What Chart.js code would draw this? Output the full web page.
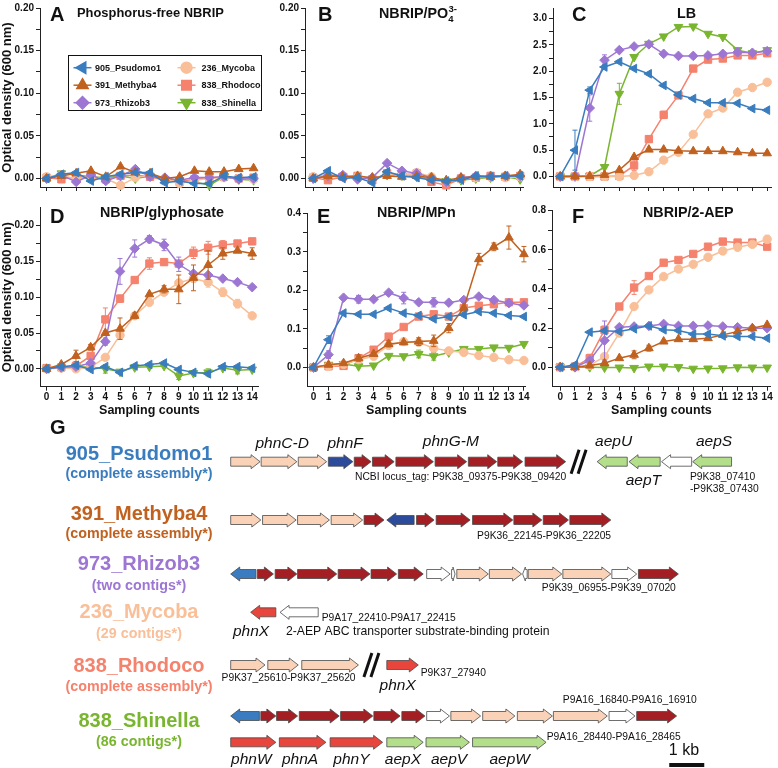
<!DOCTYPE html>
<html>
<head>
<meta charset="utf-8">
<script src="https://cdn.jsdelivr.net/npm/chart.js@4.4.1/dist/chart.umd.min.js"></script>
<style>
  body { margin: 0; background: #fff; }
  #fig { position: relative; width: 778px; height: 768px; overflow: hidden; font-family: "Liberation Sans", Arial, sans-serif; }
  #fig canvas { position: absolute; }
  .lbl { position: absolute; font-weight: bold; color: #111; white-space: nowrap; line-height: 1; }
  .let { font-size: 20px; }
  .ttl { font-size: 14.3px; }
  .sm { position: relative; font-size: 9.5px; }
</style>
</head>
<body>
<div id="fig">
  <canvas id="cA" width="265" height="200" style="left:0;top:0"></canvas>
  <canvas id="cB" width="265" height="200" style="left:265px;top:0"></canvas>
  <canvas id="cC" width="265" height="200" style="left:512.7px;top:0"></canvas>
  <canvas id="cD" width="265" height="225" style="left:0;top:195px"></canvas>
  <canvas id="cE" width="265" height="225" style="left:266.7px;top:195px"></canvas>
  <canvas id="cF" width="265" height="225" style="left:511.7px;top:195px"></canvas>
  <canvas id="cG" width="778" height="353" style="left:0;top:415px"></canvas>

  <div class="lbl let" style="left:50px;top:4px">A</div>
  <div class="lbl ttl" style="left:77px;top:7px;font-size:12.9px">Phosphorus-free NBRIP</div>
  <div class="lbl let" style="left:318px;top:4px">B</div>
  <div class="lbl ttl" style="left:379px;top:6.2px">NBRIP/PO<span class="sm" style="top:4px">4</span><span class="sm" style="top:-6px;left:-5px">3-</span></div>
  <div class="lbl let" style="left:572px;top:4px">C</div>
  <div class="lbl ttl" style="left:677px;top:6.2px">LB</div>
  <div class="lbl let" style="left:50px;top:206px">D</div>
  <div class="lbl ttl" style="left:100px;top:205px">NBRIP/glyphosate</div>
  <div class="lbl let" style="left:317px;top:206px">E</div>
  <div class="lbl ttl" style="left:377px;top:205px">NBRIP/MPn</div>
  <div class="lbl let" style="left:572px;top:206px">F</div>
  <div class="lbl ttl" style="left:643px;top:205px">NBRIP/2-AEP</div>
</div>
<script>
// ---- growth curves (OD600), one row per strain, in the order of `strains`
const counts = [0, 1, 2, 3, 4, 5, 6, 7, 8, 9, 10, 11, 12, 13, 14];
const strains = ['905_Psudomo1', '391_Methyba4', '973_Rhizob3', '236_Mycoba', '838_Rhodoco', '838_Shinella'];
const assemblies = ['(complete assembly*)', '(complete assembly*)', '(two contigs*)', '(29 contigs*)', '(complete assembly*)', '(86 contigs*)'];

const odNoP = [
  [0, 0.005, 0.007, -0.003, 0.002, 0.005, 0.007, 0.007, -0.005, -0.003, -0.006, -0.006, 0.003, 0.001, 0.002],
  [0, 0.003, 0.006, 0.009, 0.002, 0.014, 0.007, 0.006, 0, 0.002, 0.009, 0.008, 0.008, 0.011, 0.012],
  [0, 0.004, -0.004, 0.004, -0.003, 0.003, 0.011, 0.002, 0.001, -0.002, 0.001, 0.001, 0.002, -0.001, 0],
  [0.002, 0.004, -0.001, 0.002, 0, -0.008, 0.001, 0.004, 0, -0.006, -0.002, 0, 0.001, 0, -0.001],
  [0.001, -0.001, 0.002, 0.001, -0.001, 0.003, 0.004, 0.002, -0.002, -0.004, -0.001, 0.001, 0.002, 0, 0.001],
  [0, 0.006, 0.004, 0.002, 0.001, 0.003, 0, 0.003, -0.001, -0.002, -0.004, -0.008, 0.002, -0.001, -0.002]
];
const odPO4 = [
  [0, 0.009, 0, 0.001, -0.005, 0.008, 0.003, 0.001, -0.002, -0.003, -0.002, 0.003, 0.002, 0.003, 0.003],
  [0, 0.003, 0.002, 0.003, 0.001, 0.003, 0.002, 0.003, 0.001, -0.002, 0.001, 0.002, 0.002, 0.003, 0.005],
  [0, 0.003, 0.004, -0.001, 0.001, 0.018, 0.009, 0.006, 0.001, -0.004, 0.001, 0.003, 0.003, 0.003, 0.003],
  [0.002, 0.004, 0.003, 0.002, 0, 0.005, 0.003, 0.007, 0.002, -0.004, -0.001, 0.001, 0.002, 0.001, 0.002],
  [0.001, -0.002, 0.002, 0.003, -0.002, 0.006, 0.004, 0.006, -0.004, -0.008, 0, 0.001, 0.003, 0.002, 0.003],
  [0, 0.002, 0.003, 0.001, 0, 0.004, 0.003, 0.002, -0.001, -0.003, -0.002, 0, 0.001, 0.002, -0.001]
];
const odLB = [
  [0, 0.5, 1.64, 2.08, 2.18, 2.05, 1.95, 1.73, 1.55, 1.48, 1.40, 1.40, 1.39, 1.29, 1.26],
  [0, 0, 0.01, 0.03, 0.12, 0.37, 0.51, 0.51, 0.49, 0.48, 0.48, 0.48, 0.46, 0.44, 0.44],
  [0, 0.01, 1.30, 2.21, 2.40, 2.47, 2.51, 2.33, 2.29, 2.29, 2.30, 2.33, 2.36, 2.35, 2.38],
  [0, 0, 0, 0, 0, 0.02, 0.09, 0.31, 0.46, 0.80, 1.19, 1.30, 1.60, 1.69, 1.79],
  [0, 0, 0, 0, 0.01, 0.21, 0.71, 1.17, 1.54, 2.05, 2.22, 2.24, 2.30, 2.30, 2.34],
  [0, 0, 0.01, 0.18, 1.57, 2.27, 2.52, 2.66, 2.84, 2.85, 2.71, 2.65, 2.40, 2.34, 2.40]
];
const odGlyphosate = [
  [0, 0.003, 0.005, -0.001, 0.003, -0.005, 0.004, 0.006, 0.008, -0.001, -0.005, -0.007, 0.003, 0.003, 0.001],
  [0, 0.006, 0.018, 0.030, 0.050, 0.056, 0.074, 0.104, 0.111, 0.111, 0.127, 0.145, 0.161, 0.165, 0.161],
  [0, 0.002, 0.003, 0.008, 0.038, 0.136, 0.168, 0.181, 0.173, 0.146, 0.133, 0.131, 0.126, 0.121, 0.114],
  [0, 0.001, 0, 0.002, 0.016, 0.047, 0.074, 0.093, 0.107, 0.120, 0.126, 0.121, 0.107, 0.091, 0.074],
  [0.001, 0.002, 0.004, 0.018, 0.069, 0.098, 0.124, 0.147, 0.149, 0.147, 0.162, 0.169, 0.173, 0.175, 0.178],
  [0, 0.002, 0.003, 0.002, 0, -0.004, 0.002, 0.003, 0.004, -0.010, -0.006, -0.005, 0.001, -0.002, -0.001]
];
const odMPn = [
  [0, 0.072, 0.141, 0.138, 0.138, 0.154, 0.141, 0.135, 0.126, 0.132, 0.137, 0.145, 0.141, 0.135, 0.132],
  [0, 0.007, 0.011, 0.024, 0.035, 0.061, 0.065, 0.067, 0.069, 0.102, 0.155, 0.281, 0.313, 0.337, 0.294],
  [0, 0.033, 0.181, 0.177, 0.177, 0.194, 0.180, 0.169, 0.169, 0.168, 0.175, 0.184, 0.175, 0.167, 0.161],
  [0, 0.003, 0.008, 0.020, 0.029, 0.057, 0.067, 0.065, 0.050, 0.043, 0.039, 0.031, 0.026, 0.020, 0.018],
  [0, 0.003, 0.004, 0.024, 0.046, 0.080, 0.105, 0.132, 0.138, 0.132, 0.154, 0.160, 0.164, 0.169, 0.169],
  [0, 0.007, 0.009, 0.003, 0.005, 0.030, 0.029, 0.035, 0.029, 0.039, 0.048, 0.048, 0.052, 0.051, 0.061]
];
const odAEP = [
  [0, 0.012, 0.179, 0.186, 0.182, 0.196, 0.211, 0.191, 0.187, 0.169, 0.169, 0.160, 0.157, 0.157, 0.148],
  [0, 0, 0.008, 0.020, 0.046, 0.063, 0.097, 0.131, 0.143, 0.143, 0.148, 0.165, 0.182, 0.199, 0.216],
  [0, 0, 0.034, 0.136, 0.204, 0.208, 0.211, 0.221, 0.211, 0.211, 0.213, 0.208, 0.204, 0.199, 0.199],
  [0, 0, 0.010, 0.054, 0.174, 0.310, 0.395, 0.463, 0.502, 0.526, 0.562, 0.594, 0.613, 0.628, 0.654],
  [0, 0.003, 0.046, 0.190, 0.310, 0.407, 0.466, 0.534, 0.548, 0.579, 0.616, 0.642, 0.637, 0.637, 0.616],
  [0, 0, 0, -0.002, -0.002, -0.004, 0.003, 0.003, 0, -0.008, -0.007, -0.006, -0.001, -0.002, -0.002]
];

// standard deviations that are visible, as [count, sd] pairs per strain
const sdLB = [[[1, 0.38], [2, 0.06], [3, 0.04]], [], [[2, 0.25], [3, 0.1]], [], [[5, 0.1], [6, 0.06], [7, 0.07], [8, 0.04], [9, 0.05]], [[4, 0.2]]];
const sdGlyphosate = [
  [],
  [[2, 0.008], [3, 0.004], [5, 0.015], [6, 0.004], [8, 0.005], [9, 0.02], [10, 0.018], [11, 0.02], [12, 0.008], [14, 0.008]],
  [[4, 0.005], [5, 0.018], [6, 0.012], [7, 0.005], [8, 0.008], [9, 0.01]],
  [[7, 0.005], [8, 0.004], [10, 0.005], [11, 0.007], [12, 0.006], [13, 0.006]],
  [[4, 0.016], [5, 0.005], [6, 0.004], [7, 0.008], [8, 0.004], [10, 0.008], [11, 0.009], [12, 0.006]],
  [[4, 0.006], [9, 0.005], [11, 0.005], [13, 0.005]]
];
const sdMPn = [
  [[1, 0.01]],
  [[3, 0.008], [5, 0.008], [7, 0.01], [8, 0.015], [9, 0.012], [11, 0.015], [12, 0.01], [13, 0.03], [14, 0.02]],
  [[1, 0.01], [3, 0.01], [6, 0.015], [8, 0.012]],
  [], [],
  [[5, 0.005], [7, 0.01], [8, 0.01]]
];
const sdAEP = [[], [[5, 0.02], [6, 0.015]], [[3, 0.1]], [[14, 0.02]], [[2, 0.02], [3, 0.02], [5, 0.035]], []];

// y tick labels per panel
const ticksLowOD = [0, 0.05, 0.10, 0.15, 0.20];
const ticksLB = [0, 0.5, 1.0, 1.5, 2.0, 2.5, 3.0];
const ticksMPn = [0, 0.1, 0.2, 0.3, 0.4];
const ticksAEP = [0, 0.2, 0.4, 0.6, 0.8];

// ---- gene maps (G): [start kb, end kb, strand, type]
const genesPsudomo1 = [[0.02, 0.86, 1, 'P'], [0.89, 1.91, 1, 'P'], [1.95, 2.76, 1, 'P'], [2.81, 3.51, 1, 'N'], [3.55, 4.03, 1, 'R'], [4.07, 4.69, 1, 'R'], [4.74, 5.81, 1, 'R'], [5.86, 6.76, 1, 'R'], [6.81, 7.62, 1, 'R'], [7.65, 8.36, 1, 'R'], [8.43, 9.59, 1, 'R'],
  [10.49, 11.35, -1, 'G'], [11.40, 12.29, -1, 'G'], [12.33, 13.19, -1, 'W'], [13.22, 14.33, -1, 'G']];
const genesMethyba4 = [[0.02, 0.88, 1, 'P'], [0.93, 1.89, 1, 'P'], [1.93, 2.84, 1, 'P'], [2.89, 3.79, 1, 'P'], [3.83, 4.40, 1, 'R'], [4.48, 5.26, -1, 'N'], [5.33, 5.83, 1, 'R'], [5.89, 6.86, 1, 'R'], [6.93, 8.08, 1, 'R'], [8.11, 8.91, 1, 'R'], [8.95, 9.67, 1, 'R'], [9.71, 10.88, 1, 'R']];
const genesRhizob3 = [[0.02, 0.74, -1, 'B'], [0.78, 1.24, 1, 'R'], [1.29, 1.91, 1, 'R'], [1.93, 3.05, 1, 'R'], [3.09, 4.00, 1, 'R'], [4.03, 4.76, 1, 'R'], [4.81, 5.52, 1, 'R'], [5.62, 6.29, 1, 'W'], [6.33, 6.43, 1, 'W'], [6.48, 7.38, 1, 'P'], [7.41, 8.33, 1, 'P'], [8.36, 8.49, -1, 'W'], [8.52, 9.48, 1, 'P'], [9.51, 10.88, 1, 'P'], [10.91, 11.62, 1, 'W'], [11.67, 12.81, 1, 'R']];
const genesMycoba = [[0.59, 1.31, -1, 'X'], [1.43, 2.52, -1, 'W']];
const genesRhodoco = [[0.02, 1.00, 1, 'P'], [1.08, 1.95, 1, 'P'], [2.05, 3.67, 1, 'P'], [4.48, 5.38, 1, 'X']];
const genesShinellaA = [[0.02, 0.84, -1, 'B'], [0.88, 1.31, 1, 'R'], [1.33, 1.93, 1, 'R'], [1.98, 3.12, 1, 'R'], [3.16, 4.08, 1, 'R'], [4.11, 4.86, 1, 'R'], [4.91, 5.57, 1, 'R'], [5.62, 6.27, 1, 'W'], [6.31, 7.16, 1, 'P'], [7.22, 8.14, 1, 'P'], [8.21, 9.21, 1, 'P'], [9.24, 10.78, 1, 'P'], [10.83, 11.57, 1, 'W'], [11.62, 12.76, 1, 'R']];
const genesShinellaB = [[0.02, 1.31, 1, 'X'], [1.41, 2.74, 1, 'X'], [2.86, 4.36, 1, 'X'], [4.48, 5.52, 1, 'G'], [5.60, 6.84, 1, 'G'], [6.93, 9.03, 1, 'G']];
const gapMarks = [[0, 9.96], [4, 4.04]];   // [track, kb] of the "//" breaks
const scaleBarKb = [12.55, 13.55];

// ---- styling
const strainColors = ['#3a7dbf', '#c0611f', '#9d76d4', '#f9bf98', '#f4826d', '#79b52f'];
const markers = [
  { pointStyle: 'triangle', rotation: -90, r: 5 },
  { pointStyle: 'triangle', rotation: 0, r: 5 },
  { pointStyle: 'rectRot', rotation: 0, r: 4.8 },
  { pointStyle: 'circle', rotation: 0, r: 4.2 },
  { pointStyle: 'rect', rotation: 0, r: 5.2 },
  { pointStyle: 'triangle', rotation: 180, r: 5 }
];
const geneFill = { P: '#f9d2b8', R: '#a41f24', N: '#2d4b9b', B: '#3b7bbf', X: '#e8453d', G: '#b4df8a', W: '#ffffff' };
const FONT = '"Liberation Sans", Arial, sans-serif';

const sdArray = pairs => {
  const a = counts.map(() => 0);
  (pairs || []).forEach(([i, v]) => { a[i] = v; });
  return a;
};

const errorBars = {
  id: 'errorBars',
  beforeDatasetDraw(chart, args) {
    const ds = chart.data.datasets[args.index];
    if (!ds.sd) return;
    const { ctx } = chart;
    const y = chart.scales.y;
    ctx.save();
    ctx.strokeStyle = ds.borderColor;
    ctx.lineWidth = 1;
    args.meta.data.forEach((pt, i) => {
      const e = ds.sd[i];
      if (!e) return;
      const v = ds.data[i].y;
      const y1 = y.getPixelForValue(v + e), y2 = y.getPixelForValue(v - e);
      ctx.beginPath();
      ctx.moveTo(pt.x, y1); ctx.lineTo(pt.x, y2);
      ctx.moveTo(pt.x - 2.5, y1); ctx.lineTo(pt.x + 2.5, y1);
      ctx.moveTo(pt.x - 2.5, y2); ctx.lineTo(pt.x + 2.5, y2);
      ctx.stroke();
    });
    ctx.restore();
  }
};

// boxed legend inside panel A (two columns)
const boxLegend = {
  id: 'boxLegend',
  afterDraw(chart) {
    const { ctx } = chart;
    ctx.save();
    ctx.fillStyle = '#fff';
    ctx.fillRect(68.5, 55.5, 193, 55);
    ctx.strokeStyle = '#111';
    ctx.lineWidth = 1;
    ctx.strokeRect(68.5, 55.5, 193, 55);
    ctx.font = 'bold 9px ' + FONT;
    ctx.textBaseline = 'middle';
    chart.data.datasets.forEach((ds, i) => {
      const col = i < 3 ? 0 : 1;
      const y = 67.7 + (i % 3) * 17.5;
      const mx = col ? 186.5 : 82.5;
      ctx.strokeStyle = ds.borderColor;
      ctx.lineWidth = 1.5;
      ctx.beginPath(); ctx.moveTo(mx - 9, y); ctx.lineTo(mx + 9, y); ctx.stroke();
      ctx.fillStyle = ds.borderColor;
      Chart.helpers.drawPoint(ctx, { pointStyle: ds.pointStyle, rotation: ds.pointRotation, radius: ds.pointRadius * 1.3, borderWidth: 1 }, mx, y);
      ctx.fillStyle = '#111';
      ctx.fillText(ds.label, col ? 201.5 : 95, y + 0.5);
    });
    ctx.restore();
  }
};

function growthPanel(id, p) {
  const majors = p.ticks;
  const yTicks = [];
  majors.forEach((v, i) => {
    yTicks.push(v);
    if (i < majors.length - 1) yTicks.push((v + majors[i + 1]) / 2);
  });
  const xMin = -(p.zeroX - p.axisX) / p.step;
  const xMax = xMin + 222 / p.step;
  const tickFont = { family: FONT, size: 10, weight: 'bold' };
  return new Chart(document.getElementById(id), {
    type: 'line',
    data: {
      datasets: strains.map((name, i) => ({
        label: name,
        data: counts.map((c, j) => ({ x: c, y: p.values[i][j] })),
        sd: p.sd ? sdArray(p.sd[i]) : null,
        borderColor: strainColors[i],
        backgroundColor: strainColors[i],
        borderWidth: 1.5,
        pointStyle: markers[i].pointStyle,
        pointRotation: markers[i].rotation,
        pointRadius: markers[i].r,
        pointBorderWidth: 1,
        tension: 0,
        clip: false
      }))
    },
    options: {
      responsive: false,
      animation: false,
      events: [],
      layout: { padding: { top: p.padTop, right: 3, left: 0, bottom: 0 } },
      plugins: { legend: { display: false }, tooltip: { enabled: false } },
      scales: {
        x: {
          type: 'linear', min: xMin, max: xMax,
          afterFit: s => { s.height = p.xAxisH; },
          afterBuildTicks: s => { s.ticks = counts.map(v => ({ value: v })); },
          ticks: { display: p.xLabels, color: '#111', font: tickFont, padding: 1, maxRotation: 0, autoSkip: false, callback: v => String(v) },
          grid: { drawOnChartArea: false, tickLength: 4, color: '#222' },
          border: { color: '#222', width: 1 },
          title: { display: p.xLabels, text: 'Sampling counts', color: '#111', font: { family: FONT, size: 12.5, weight: 'bold' }, padding: { top: 0, bottom: 2 } }
        },
        y: {
          type: 'linear', min: p.yMin, max: p.yMax,
          afterFit: s => { s.width = 40; },
          afterBuildTicks: s => { s.ticks = yTicks.map(v => ({ value: v })); },
          ticks: {
            color: '#111', font: tickFont, padding: 2, autoSkip: false,
            callback: v => majors.some(m => Math.abs(m - v) < 1e-9) ? v.toFixed(p.dec) : ''
          },
          grid: { drawOnChartArea: false, tickLength: 4, color: '#222' },
          border: { color: '#222', width: 1 },
          title: { display: !!p.yTitle, text: 'Optical density (600 nm)', color: '#111', font: { family: FONT, size: 13, weight: 'bold' }, padding: 0 }
        }
      }
    },
    plugins: p.legend ? [errorBars, boxLegend] : [errorBars]
  });
}

growthPanel('cA', { values: odNoP, ticks: ticksLowOD, dec: 2, yMin: -0.01, yMax: 0.2, padTop: 7, xAxisH: 13, xLabels: false, axisX: 40, zeroX: 46.7, step: 15, yTitle: true, legend: true });
growthPanel('cB', { values: odPO4, ticks: ticksLowOD, dec: 2, yMin: -0.01, yMax: 0.2, padTop: 7, xAxisH: 13, xLabels: false, axisX: 305, zeroX: 313.3, step: 15 });
growthPanel('cC', { values: odLB, sd: sdLB, ticks: ticksLB, dec: 1, yMin: -0.2, yMax: 3.2, padTop: 1, xAxisH: 13, xLabels: false, axisX: 552.7, zeroX: 560, step: 15 });
growthPanel('cD', { values: odGlyphosate, sd: sdGlyphosate, ticks: ticksLowOD, dec: 2, yMin: -0.025, yMax: 0.225, padTop: 12.7, xAxisH: 33.3, xLabels: true, axisX: 40, zeroX: 46.7, step: 14.9, yTitle: true });
growthPanel('cE', { values: odMPn, sd: sdMPn, ticks: ticksMPn, dec: 1, yMin: -0.05, yMax: 0.4, padTop: 18.3, xAxisH: 33.3, xLabels: true, axisX: 306.7, zeroX: 313.3, step: 15.25 });
growthPanel('cF', { values: odAEP, sd: sdAEP, ticks: ticksAEP, dec: 1, yMin: -0.1, yMax: 0.8, padTop: 15.7, xAxisH: 33.3, xLabels: true, axisX: 551.7, zeroX: 560, step: 15 });

// ---- panel G: gene neighbourhoods drawn on a kb scale
const tracks = [genesPsudomo1, genesMethyba4, genesRhizob3, genesMycoba, genesRhodoco, genesShinellaA, genesShinellaB];
const trackY = [46.7, 105, 159, 197.3, 250, 301, 327.3];
const strainLabelY = [[39, 59], [99, 119], [149, 171], [197.5, 219], [251, 272], [306, 327]];
const geneNotes = [
  ['phnC-D', 1.49, 28.3, 'i', 'center'], ['phnF', 3.29, 28.3, 'i', 'center'], ['phnG-M', 6.31, 26.7, 'i', 'center'],
  ['aepU', 10.96, 26.7, 'i', 'center'], ['aepS', 13.83, 26.7, 'i', 'center'], ['aepT', 11.81, 65.7, 'i', 'center'],
  ['NCBI locus_tag: P9K38_09375-P9K38_09420', 3.57, 62.3, 's', 'left'],
  ['P9K38_07410', 13.14, 62.3, 's', 'left'], ['-P9K38_07430', 13.14, 74.3, 's', 'left'],
  ['P9K36_22145-P9K36_22205', 7.06, 121, 's', 'left'],
  ['P9K39_06955-P9K39_07020', 8.91, 173.3, 's', 'left'],
  ['P9A17_22410-P9A17_22415', 2.62, 203.3, 's', 'left'],
  ['phnX', 0.6, 216.7, 'i', 'center'], ['2-AEP ABC transporter substrate-binding protein', 1.6, 216.7, 'm', 'left'],
  ['P9K37_25610-P9K37_25620', -0.24, 263.3, 's', 'left'], ['P9K37_27940', 5.45, 257.7, 's', 'left'], ['phnX', 4.79, 271, 'i', 'center'],
  ['P9A16_16840-P9A16_16910', 9.51, 285, 's', 'left'],
  ['P9A16_28440-P9A16_28465', 9.05, 321.7, 's', 'left'],
  ['phnW', 0.61, 345, 'i', 'center'], ['phnA', 2.0, 345, 'i', 'center'], ['phnY', 3.47, 345, 'i', 'center'],
  ['aepX', 4.94, 345, 'i', 'center'], ['aepV', 6.26, 345, 'i', 'center'], ['aepW', 7.99, 345, 'i', 'center'],
  ['1 kb', 12.97, 335.7, 'kb', 'center']
];
const noteFonts = { i: 'italic 15.5px ', s: '10.3px ', m: '12.2px ', kb: '16px ' };

function drawGene(ctx, x0, x1, y, strand, fill) {
  const len = x1 - x0, body = 4.5, head = 7, hl = Math.min(9, len * 0.6);
  ctx.beginPath();
  if (strand > 0) {
    ctx.moveTo(x0, y - body); ctx.lineTo(x1 - hl, y - body); ctx.lineTo(x1 - hl, y - head);
    ctx.lineTo(x1, y); ctx.lineTo(x1 - hl, y + head); ctx.lineTo(x1 - hl, y + body); ctx.lineTo(x0, y + body);
  } else {
    ctx.moveTo(x1, y - body); ctx.lineTo(x0 + hl, y - body); ctx.lineTo(x0 + hl, y - head);
    ctx.lineTo(x0, y); ctx.lineTo(x0 + hl, y + head); ctx.lineTo(x0 + hl, y + body); ctx.lineTo(x1, y + body);
  }
  ctx.closePath();
  ctx.fillStyle = fill;
  ctx.fill();
  ctx.stroke();
}

const geneMap = {
  id: 'geneMap',
  afterDatasetsDraw(chart) {
    const { ctx } = chart;
    const { x, y } = chart.scales;
    ctx.save();
    // panel letter
    ctx.fillStyle = '#111';
    ctx.font = 'bold 20px ' + FONT;
    ctx.textBaseline = 'middle';
    ctx.fillText('G', x.getPixelForValue(-5.14), y.getPixelForValue(13));
    // strain names
    ctx.textAlign = 'center';
    strains.forEach((s, i) => {
      ctx.fillStyle = strainColors[i];
      ctx.font = 'bold 20px ' + FONT;
      ctx.fillText(s, x.getPixelForValue(-2.6), y.getPixelForValue(strainLabelY[i][0]));
      ctx.font = 'bold 14.3px ' + FONT;
      ctx.fillText(assemblies[i], x.getPixelForValue(-2.6), y.getPixelForValue(strainLabelY[i][1]));
    });
    // genes
    ctx.strokeStyle = '#4a4a4a';
    ctx.lineWidth = 0.8;
    tracks.forEach((genes, t) => {
      const yy = y.getPixelForValue(trackY[t]);
      genes.forEach(([a, b, strand, type]) => {
        drawGene(ctx, x.getPixelForValue(a), x.getPixelForValue(b), yy, strand, geneFill[type]);
      });
    });
    // "//" breaks
    ctx.strokeStyle = '#111';
    ctx.lineWidth = 3;
    gapMarks.forEach(([t, kb]) => {
      const cx = x.getPixelForValue(kb), cy = y.getPixelForValue(trackY[t]);
      [-3.5, 3.5].forEach(dx => {
        ctx.beginPath();
        ctx.moveTo(cx + dx - 4, cy + 12);
        ctx.lineTo(cx + dx + 4, cy - 12);
        ctx.stroke();
      });
    });
    // notes
    ctx.fillStyle = '#111';
    geneNotes.forEach(([txt, kb, yy, f, align]) => {
      ctx.font = noteFonts[f] + FONT;
      ctx.textAlign = align;
      ctx.fillText(txt, x.getPixelForValue(kb), y.getPixelForValue(yy));
    });
    // scale bar
    ctx.lineWidth = 4;
    ctx.beginPath();
    ctx.moveTo(x.getPixelForValue(scaleBarKb[0]), y.getPixelForValue(350));
    ctx.lineTo(x.getPixelForValue(scaleBarKb[1]), y.getPixelForValue(350));
    ctx.stroke();
    ctx.restore();
  }
};

new Chart(document.getElementById('cG'), {
  type: 'scatter',
  data: { datasets: [] },
  options: {
    responsive: false,
    animation: false,
    events: [],
    layout: { padding: 0 },
    plugins: { legend: { display: false }, tooltip: { enabled: false } },
    scales: {
      x: { type: 'linear', min: -230 / 35, max: 548 / 35, display: false },
      y: { type: 'linear', min: 0, max: 353, reverse: true, display: false }
    }
  },
  plugins: [geneMap]
});
</script>
</body>
</html>
